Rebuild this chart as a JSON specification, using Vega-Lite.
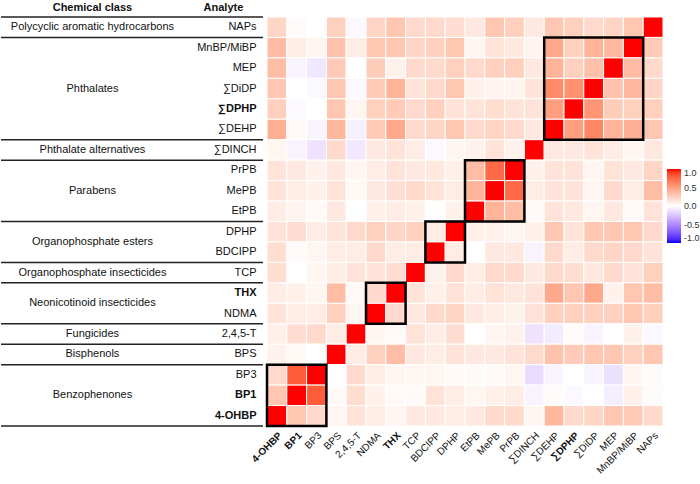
{
  "$schema": "https://vega.github.io/schema/vega-lite/v6.json",
  "padding": {"top": 2, "left": 0, "right": 0, "bottom": 0},
  "bounds": "flush",
  "spacing": 4,
  "config": {"view": {"stroke": null}, "font": "Liberation Sans"},
  "datasets": {
    "corr": [
      {"row":"NAPs","4-OHBP":0.22,"BP1":0.02,"BP3":0.0,"BPS":0.25,"2,4,5-T":-0.03,"NDMA":0.22,"THX":0.3,"TCP":0.2,"BDCIPP":0.2,"DPHP":0.18,"EtPB":0.12,"MePB":0.3,"PrPB":0.25,"∑DINCH":0.12,"∑DEHP":0.3,"∑DPHP":0.25,"∑DiDP":0.2,"MEP":0.22,"MnBP/MiBP":0.3,"NAPs":1},
      {"row":"MnBP/MiBP","4-OHBP":0.36,"BP1":0.1,"BP3":0.05,"BPS":0.32,"2,4,5-T":0.1,"NDMA":0.3,"THX":0.3,"TCP":0.22,"BDCIPP":0.25,"DPHP":0.3,"EtPB":0.05,"MePB":0.15,"PrPB":0.12,"∑DINCH":0.06,"∑DEHP":0.45,"∑DPHP":0.25,"∑DiDP":0.4,"MEP":0.37,"MnBP/MiBP":1,"NAPs":0.28},
      {"row":"MEP","4-OHBP":0.35,"BP1":-0.05,"BP3":-0.1,"BPS":0.28,"2,4,5-T":0.0,"NDMA":0.27,"THX":0.07,"TCP":0.2,"BDCIPP":0.2,"DPHP":0.25,"EtPB":0.2,"MePB":0.25,"PrPB":0.25,"∑DINCH":0.12,"∑DEHP":0.4,"∑DPHP":0.25,"∑DiDP":0.33,"MEP":1,"MnBP/MiBP":0.36,"NAPs":0.2},
      {"row":"∑DiDP","4-OHBP":0.3,"BP1":0.0,"BP3":-0.03,"BPS":0.3,"2,4,5-T":-0.03,"NDMA":0.28,"THX":0.4,"TCP":0.15,"BDCIPP":0.2,"DPHP":0.3,"EtPB":0.08,"MePB":0.06,"PrPB":0.06,"∑DINCH":0.15,"∑DEHP":0.6,"∑DPHP":0.57,"∑DiDP":1,"MEP":0.32,"MnBP/MiBP":0.38,"NAPs":0.22},
      {"row":"∑DPHP","4-OHBP":0.25,"BP1":-0.02,"BP3":0.0,"BPS":0.3,"2,4,5-T":0.05,"NDMA":0.25,"THX":0.28,"TCP":0.2,"BDCIPP":0.25,"DPHP":0.15,"EtPB":0.15,"MePB":0.18,"PrPB":0.15,"∑DINCH":0.15,"∑DEHP":0.5,"∑DPHP":1,"∑DiDP":0.55,"MEP":0.27,"MnBP/MiBP":0.25,"NAPs":0.25},
      {"row":"∑DEHP","4-OHBP":0.42,"BP1":0.03,"BP3":-0.04,"BPS":0.38,"2,4,5-T":-0.06,"NDMA":0.28,"THX":0.45,"TCP":0.2,"BDCIPP":0.22,"DPHP":0.3,"EtPB":0.2,"MePB":0.22,"PrPB":0.2,"∑DINCH":0.12,"∑DEHP":1,"∑DPHP":0.5,"∑DiDP":0.62,"MEP":0.4,"MnBP/MiBP":0.42,"NAPs":0.3},
      {"row":"∑DINCH","4-OHBP":0.05,"BP1":-0.05,"BP3":-0.12,"BPS":0.2,"2,4,5-T":-0.1,"NDMA":0.12,"THX":0.15,"TCP":0.1,"BDCIPP":-0.03,"DPHP":0.05,"EtPB":0.07,"MePB":0.15,"PrPB":0.07,"∑DINCH":1,"∑DEHP":0.12,"∑DPHP":0.12,"∑DiDP":0.15,"MEP":0.1,"MnBP/MiBP":0.05,"NAPs":0.12},
      {"row":"PrPB","4-OHBP":0.15,"BP1":0.12,"BP3":0.07,"BPS":0.12,"2,4,5-T":0.05,"NDMA":0.1,"THX":0.15,"TCP":0.12,"BDCIPP":0.12,"DPHP":0.08,"EtPB":0.35,"MePB":0.75,"PrPB":1,"∑DINCH":0.07,"∑DEHP":0.15,"∑DPHP":0.15,"∑DiDP":0.05,"MEP":0.15,"MnBP/MiBP":0.12,"NAPs":0.22},
      {"row":"MePB","4-OHBP":0.15,"BP1":0.1,"BP3":0.07,"BPS":0.15,"2,4,5-T":0.04,"NDMA":0.12,"THX":0.17,"TCP":0.2,"BDCIPP":0.15,"DPHP":0.1,"EtPB":0.4,"MePB":1,"PrPB":0.75,"∑DINCH":0.1,"∑DEHP":0.15,"∑DPHP":0.15,"∑DiDP":0.05,"MEP":0.2,"MnBP/MiBP":0.1,"NAPs":0.35},
      {"row":"EtPB","4-OHBP":0.1,"BP1":0.06,"BP3":0.03,"BPS":0.12,"2,4,5-T":0.0,"NDMA":0.08,"THX":0.1,"TCP":0.08,"BDCIPP":0.0,"DPHP":0.07,"EtPB":1,"MePB":0.4,"PrPB":0.35,"∑DINCH":0.03,"∑DEHP":0.15,"∑DPHP":0.12,"∑DiDP":0.05,"MEP":0.12,"MnBP/MiBP":0.03,"NAPs":0.15},
      {"row":"DPHP","4-OHBP":0.15,"BP1":0.18,"BP3":0.1,"BPS":0.15,"2,4,5-T":0.2,"NDMA":0.25,"THX":0.22,"TCP":0.25,"BDCIPP":0.1,"DPHP":1,"EtPB":0.08,"MePB":0.07,"PrPB":0.05,"∑DINCH":0.08,"∑DEHP":0.3,"∑DPHP":0.15,"∑DiDP":0.3,"MEP":0.3,"MnBP/MiBP":0.3,"NAPs":0.2},
      {"row":"BDCIPP","4-OHBP":0.18,"BP1":0.02,"BP3":0.05,"BPS":0.1,"2,4,5-T":0.1,"NDMA":0.2,"THX":0.1,"TCP":0.1,"BDCIPP":1,"DPHP":0.1,"EtPB":0.0,"MePB":0.12,"PrPB":0.12,"∑DINCH":-0.05,"∑DEHP":0.2,"∑DPHP":0.1,"∑DiDP":0.2,"MEP":0.22,"MnBP/MiBP":0.2,"NAPs":0.15},
      {"row":"TCP","4-OHBP":0.18,"BP1":0.0,"BP3":0.05,"BPS":0.1,"2,4,5-T":0.15,"NDMA":0.15,"THX":0.18,"TCP":1,"BDCIPP":0.07,"DPHP":0.2,"EtPB":0.1,"MePB":0.2,"PrPB":0.2,"∑DINCH":0.12,"∑DEHP":0.2,"∑DPHP":0.18,"∑DiDP":0.12,"MEP":0.2,"MnBP/MiBP":0.15,"NAPs":0.25},
      {"row":"THX","4-OHBP":0.1,"BP1":0.08,"BP3":0.05,"BPS":0.35,"2,4,5-T":0.03,"NDMA":0.2,"THX":1,"TCP":0.15,"BDCIPP":0.08,"DPHP":0.15,"EtPB":0.1,"MePB":0.15,"PrPB":0.12,"∑DINCH":0.15,"∑DEHP":0.45,"∑DPHP":0.3,"∑DiDP":0.45,"MEP":0.07,"MnBP/MiBP":0.3,"NAPs":0.35},
      {"row":"NDMA","4-OHBP":0.15,"BP1":0.1,"BP3":0.1,"BPS":0.25,"2,4,5-T":0.05,"NDMA":1,"THX":0.2,"TCP":0.12,"BDCIPP":0.2,"DPHP":0.22,"EtPB":0.12,"MePB":0.1,"PrPB":0.07,"∑DINCH":0.15,"∑DEHP":0.25,"∑DPHP":0.25,"∑DiDP":0.25,"MEP":0.25,"MnBP/MiBP":0.3,"NAPs":0.25},
      {"row":"2,4,5-T","4-OHBP":0.08,"BP1":0.18,"BP3":0.2,"BPS":0.1,"2,4,5-T":1,"NDMA":0.05,"THX":0.03,"TCP":0.15,"BDCIPP":0.1,"DPHP":0.18,"EtPB":0.0,"MePB":0.05,"PrPB":0.07,"∑DINCH":-0.12,"∑DEHP":-0.08,"∑DPHP":0.02,"∑DiDP":-0.05,"MEP":0.0,"MnBP/MiBP":0.07,"NAPs":-0.03},
      {"row":"BPS","4-OHBP":0.07,"BP1":0.04,"BP3":0.0,"BPS":1,"2,4,5-T":0.1,"NDMA":0.25,"THX":0.35,"TCP":0.12,"BDCIPP":0.1,"DPHP":0.15,"EtPB":0.12,"MePB":0.12,"PrPB":0.15,"∑DINCH":0.2,"∑DEHP":0.32,"∑DPHP":0.28,"∑DiDP":0.3,"MEP":0.3,"MnBP/MiBP":0.25,"NAPs":0.3},
      {"row":"BP3","4-OHBP":0.2,"BP1":0.8,"BP3":1,"BPS":0.0,"2,4,5-T":0.2,"NDMA":0.1,"THX":0.05,"TCP":0.05,"BDCIPP":0.05,"DPHP":0.03,"EtPB":0.03,"MePB":0.03,"PrPB":0.05,"∑DINCH":-0.15,"∑DEHP":-0.05,"∑DPHP":0.0,"∑DiDP":-0.05,"MEP":-0.13,"MnBP/MiBP":0.05,"NAPs":0.02},
      {"row":"BP1","4-OHBP":0.3,"BP1":1,"BP3":0.8,"BPS":0.03,"2,4,5-T":0.18,"NDMA":0.07,"THX":0.03,"TCP":0.03,"BDCIPP":0.15,"DPHP":0.1,"EtPB":0.05,"MePB":0.08,"PrPB":0.1,"∑DINCH":-0.05,"∑DEHP":0.02,"∑DPHP":-0.03,"∑DiDP":0.0,"MEP":-0.07,"MnBP/MiBP":0.08,"NAPs":0.02},
      {"row":"4-OHBP","4-OHBP":1,"BP1":0.3,"BP3":0.2,"BPS":0.05,"2,4,5-T":0.15,"NDMA":0.1,"THX":0.05,"TCP":0.12,"BDCIPP":0.12,"DPHP":0.1,"EtPB":0.12,"MePB":0.2,"PrPB":0.2,"∑DINCH":0.05,"∑DEHP":0.38,"∑DPHP":0.2,"∑DiDP":0.22,"MEP":0.3,"MnBP/MiBP":0.28,"NAPs":0.2}
    ],
    "classes": [
      {"class":"Polycyclic aromatic hydrocarbons","first":"NAPs","last":"NAPs","anchor":"NAPs","n":1},
      {"class":"Phthalates","first":"MnBP/MiBP","last":"∑DEHP","anchor":"∑DiDP","n":5},
      {"class":"Phthalate alternatives","first":"∑DINCH","last":"∑DINCH","anchor":"∑DINCH","n":1},
      {"class":"Parabens","first":"PrPB","last":"EtPB","anchor":"MePB","n":3},
      {"class":"Organophosphate esters","first":"DPHP","last":"BDCIPP","anchor":"DPHP","n":2},
      {"class":"Organophosphate insecticides","first":"TCP","last":"TCP","anchor":"TCP","n":1},
      {"class":"Neonicotinoid insecticides","first":"THX","last":"NDMA","anchor":"THX","n":2},
      {"class":"Fungicides","first":"2,4,5-T","last":"2,4,5-T","anchor":"2,4,5-T","n":1},
      {"class":"Bisphenols","first":"BPS","last":"BPS","anchor":"BPS","n":1},
      {"class":"Benzophenones","first":"BP3","last":"4-OHBP","anchor":"BP1","n":3}
    ],
    "headers": [
      {"h": "Chemical class", "pos": 0.349},
      {"h": "Analyte", "pos": 0.849}
    ]
  },
  "hconcat": [
    {
      "width": 262,
      "height": 409,
      "layer": [
        {
          "data": {"name": "classes"},
          "mark": {"type": "rule", "color": "#222222", "strokeWidth": 1.5},
          "encoding": {
            "y": {"field": "last", "type": "nominal", "bandPosition": 1, "axis": null,
                  "scale": {"domain": ["NAPs","MnBP/MiBP","MEP","∑DiDP","∑DPHP","∑DEHP","∑DINCH","PrPB","MePB","EtPB","DPHP","BDCIPP","TCP","THX","NDMA","2,4,5-T","BPS","BP3","BP1","4-OHBP"], "paddingInner": 0, "paddingOuter": 0}}
          }
        },
        {
          "data": {"name": "classes"},
          "transform": [{"filter": "datum.first === 'NAPs'"}],
          "mark": {"type": "rule", "color": "#222222", "strokeWidth": 1.5},
          "encoding": {
            "y": {"field": "first", "type": "nominal", "bandPosition": 0, "axis": null}
          }
        },
        {
          "data": {"name": "classes"},
          "transform": [{"filter": "datum.n % 2 === 1"}],
          "mark": {"type": "text", "align": "center", "baseline": "middle", "fontSize": 11, "color": "#111111"},
          "encoding": {
            "x": {"datum": 0.349, "type": "quantitative", "scale": {"domain": [0, 1], "nice": false, "zero": false}, "axis": null},
            "y": {"field": "anchor", "type": "nominal", "axis": null},
            "text": {"field": "class"}
          }
        },
        {
          "data": {"name": "classes"},
          "transform": [{"filter": "datum.n % 2 === 0"}],
          "mark": {"type": "text", "align": "center", "baseline": "middle", "fontSize": 11, "color": "#111111"},
          "encoding": {
            "x": {"datum": 0.349, "type": "quantitative", "axis": null},
            "y": {"field": "anchor", "type": "nominal", "bandPosition": 1, "axis": null},
            "text": {"field": "class"}
          }
        },
        {
          "data": {"name": "headers"},
          "mark": {"type": "text", "align": "center", "baseline": "alphabetic", "fontSize": 11, "fontWeight": "bold", "color": "#111111", "dy": -6},
          "encoding": {
            "x": {"field": "pos", "type": "quantitative", "axis": null},
            "y": {"datum": "NAPs", "type": "nominal", "bandPosition": 0, "axis": null},
            "text": {"field": "h"}
          }
        }
      ]
    },
    {
      "width": 396,
      "height": 409,
      "layer": [
        {
          "data": {"name": "corr"},
          "transform": [{"fold": ["4-OHBP","BP1","BP3","BPS","2,4,5-T","NDMA","THX","TCP","BDCIPP","DPHP","EtPB","MePB","PrPB","∑DINCH","∑DEHP","∑DPHP","∑DiDP","MEP","MnBP/MiBP","NAPs"], "as": ["col", "r"]}],
          "mark": {"type": "rect", "stroke": "white", "strokeWidth": 1},
          "encoding": {
            "x": {"field": "col", "type": "nominal", "title": null,
                  "scale": {"domain": ["4-OHBP","BP1","BP3","BPS","2,4,5-T","NDMA","THX","TCP","BDCIPP","DPHP","EtPB","MePB","PrPB","∑DINCH","∑DEHP","∑DPHP","∑DiDP","MEP","MnBP/MiBP","NAPs"], "paddingInner": 0, "paddingOuter": 0},
                  "axis": {"orient": "bottom", "labelAngle": -45, "labelFontSize": 10, "labelColor": "#111111", "labelPadding": 4, "ticks": false, "domain": false,
                           "labelFontWeight": {"condition": {"test": "indexof(['4-OHBP','BP1','THX','∑DPHP'], datum.value) >= 0", "value": "bold"}, "value": "normal"}}},
            "y": {"field": "row", "type": "nominal", "title": null,
                  "scale": {"domain": ["NAPs","MnBP/MiBP","MEP","∑DiDP","∑DPHP","∑DEHP","∑DINCH","PrPB","MePB","EtPB","DPHP","BDCIPP","TCP","THX","NDMA","2,4,5-T","BPS","BP3","BP1","4-OHBP"], "paddingInner": 0, "paddingOuter": 0},
                  "axis": {"orient": "left", "labelFontSize": 11, "labelColor": "#111111", "labelPadding": 11, "ticks": false, "domain": false,
                           "labelFontWeight": {"condition": {"test": "indexof(['4-OHBP','BP1','THX','∑DPHP'], datum.value) >= 0", "value": "bold"}, "value": "normal"}}},
            "color": {"field": "r", "type": "quantitative",
                      "scale": {"domain": [-1, 0, 1], "range": ["#0000ff", "#ffffff", "#ff0000"], "interpolate": "lab"},
                      "legend": {"orient": "none", "legendX": 666, "legendY": 152, "title": null, "direction": "vertical", "gradientLength": 74, "gradientThickness": 14, "gradientStrokeWidth": 0, "labelFontSize": 9, "labelColor": "#333333", "labelOffset": 3, "values": [1, 0.5, 0, -0.5, -1], "labelExpr": "replace(format(datum.value, '.1f'), '−', '-')"}}
          }
        },
        {
          "data": {"name": "classes"},
          "transform": [{"filter": "datum.n > 1"}],
          "mark": {"type": "rect", "fill": null, "filled": false, "stroke": "black", "strokeWidth": 2.5},
          "encoding": {
            "x": {"field": "last", "type": "nominal", "bandPosition": 0},
            "x2": {"field": "first", "bandPosition": 1},
            "y": {"field": "first", "type": "nominal", "bandPosition": 0},
            "y2": {"field": "last", "bandPosition": 1}
          }
        }
      ]
    }
  ]
}
